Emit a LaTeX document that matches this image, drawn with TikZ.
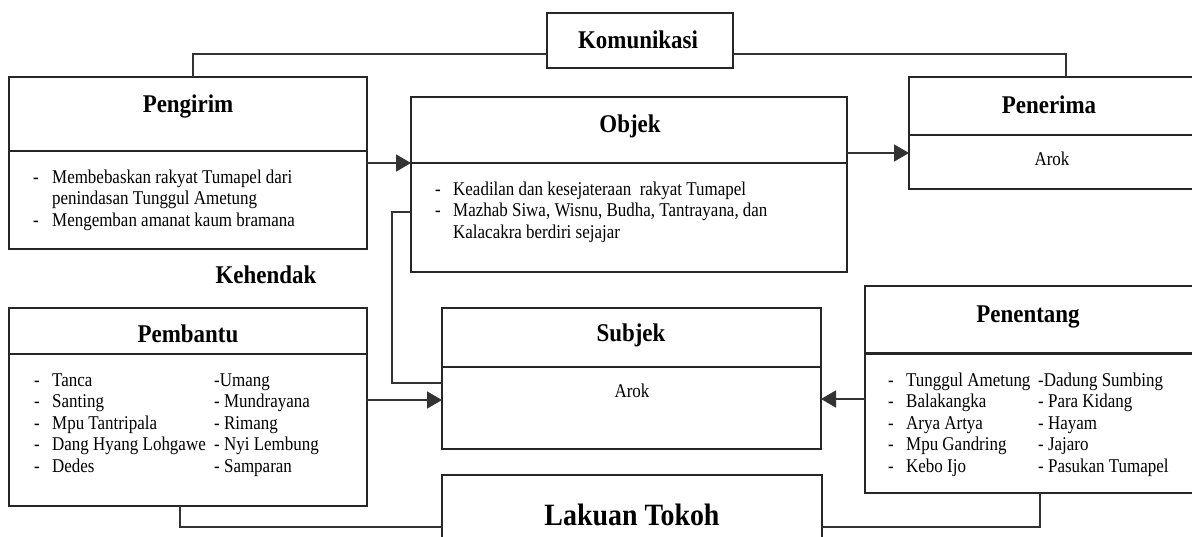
\documentclass[tikz,border=0pt]{standalone}
\usepackage{fontspec}
\setmainfont{Liberation Serif}
\newfontfamily\tfont[FakeStretch=0.9]{Liberation Serif}
\newfontfamily\bfont[FakeStretch=0.87]{Liberation Serif}
\usetikzlibrary{arrows.meta}
\begin{document}
\begin{tikzpicture}[x=1pt,y=-1pt,
  box/.style={draw=black!85, line width=1.5pt, rectangle, inner sep=0pt, outer sep=0pt, anchor=north west},
  divider/.style={draw=black!85, line width=1.5pt},
  ttl/.style={font=\tfont\fontsize{25.5}{28}\selectfont\bfseries, inner sep=0pt, anchor=base},
  bigttl/.style={font=\tfont\fontsize{31}{34}\selectfont\bfseries, inner sep=0pt, anchor=base},
  body/.style={font=\bfont\fontsize{19.5}{21.5}\selectfont, inner sep=0pt, anchor=base west},
  bodyc/.style={font=\bfont\fontsize{19.5}{21.5}\selectfont, inner sep=0pt, anchor=base},
  conn/.style={draw=black!80, line width=1.6pt},
  arr/.style={conn, -{Triangle[length=15pt,width=17pt]}},
]
\useasboundingbox (0,0) rectangle (1192,536);
\clip (0,0) rectangle (1192,536);

% boxes
\node[box, minimum width=186pt, minimum height=55pt] (kom) at (547,13) {};
\node[box, minimum width=358pt, minimum height=172pt] (peng) at (9,77) {};
\node[box, minimum width=436pt, minimum height=175pt] (obj) at (411,97) {};
\node[box, minimum width=300pt, minimum height=112pt] (pen) at (909,77) {};
\node[box, minimum width=358pt, minimum height=198pt] (pemb) at (9,308) {};
\node[box, minimum width=379pt, minimum height=141pt] (subj) at (442,308) {};
\node[box, minimum width=340pt, minimum height=207pt] (pent) at (865,286) {};
\node[box, minimum width=380pt, minimum height=90pt] (lak) at (442,475) {};

% dividers
\draw[divider] ([yshift=-74pt]peng.north west) -- ([yshift=-74pt]peng.north east);
\draw[divider] ([yshift=-66pt]obj.north west) -- ([yshift=-66pt]obj.north east);
\draw[divider] ([yshift=-58pt]pen.north west) -- ([yshift=-58pt]pen.north east);
\draw[divider] ([yshift=-46pt]pemb.north west) -- ([yshift=-46pt]pemb.north east);
\draw[divider] ([yshift=-59pt]subj.north west) -- ([yshift=-59pt]subj.north east);
\draw[divider, line width=3pt] ([yshift=-67pt]pent.north west) -- ([yshift=-67pt]pent.north east);

% titles
\node[ttl] (tkom) at (638,48) {Komunikasi};
\node[ttl] (tpeng) at (188,112) {Pengirim};
\node[ttl] (tobj) at (630,132) {Objek};
\node[ttl] (tpen) at (1049,113) {Penerima};
\node[ttl] (tkeh) at (266,283) {Kehendak};
\node[ttl] (tpemb) at (188,342) {Pembantu};
\node[ttl] (tsubj) at (631,341) {Subjek};
\node[ttl] (tpent) at (1028,322) {Penentang};
\node[bigttl] (tlak) at (632,525) {Lakuan Tokoh};

% bodies
\node[body] (bpeng) at (33,183) {\begin{tabular}[t]{@{}p{19pt}@{}l@{}}-&Membebaskan rakyat Tumapel dari\\&penindasan Tunggul Ametung\\-&Mengemban amanat kaum bramana\end{tabular}};
\node[body] (bobj) at (435,195) {\begin{tabular}[t]{@{}p{18pt}@{}l@{}}-&Keadilan dan kesejateraan\ \ rakyat Tumapel\\-&Mazhab Siwa, Wisnu, Budha, Tantrayana, dan\\&Kalacakra berdiri sejajar\end{tabular}};
\node[bodyc] (bpen) at (1052,165) {Arok};
\node[bodyc] (bsubj) at (632,397) {Arok};
\node[body] (bpemb) at (34,386) {\begin{tabular}[t]{@{}p{18pt}@{}p{162pt}@{}l@{}}-&Tanca&-Umang\\-&Santing&- Mundrayana\\-&Mpu Tantripala&- Rimang\\-&Dang Hyang Lohgawe&- Nyi Lembung\\-&Dedes&- Samparan\end{tabular}};
\node[body] (bpent) at (888,386) {\begin{tabular}[t]{@{}p{18pt}@{}p{132pt}@{}l@{}}-&Tunggul Ametung&-Dadung Sumbing\\-&Balakangka&- Para Kidang\\-&Arya Artya&- Hayam\\-&Mpu Gandring&- Jajaro\\-&Kebo Ijo&- Pasukan Tumapel\end{tabular}};

% connectors
\draw[conn] (kom.west |- 0,54) -| (peng.north -| 193,0);
\draw[conn] (kom.east |- 0,54) -| (pen.north -| 1066,0);
\draw[arr] (peng.east |- 0,163) -- (obj.west |- 0,163);
\draw[arr] (obj.east |- 0,153) -- (pen.west |- 0,153);
\draw[conn] (obj.west |- 0,212) -| (392,300) |- (subj.west |- 0,383);
\draw[arr] (pemb.east |- 0,400) -- (subj.west |- 0,400);
\draw[arr] (pent.west |- 0,399) -- (subj.east |- 0,399);
\draw[conn] (pemb.south -| 180,0) |- (lak.west |- 0,527);
\draw[conn] (pent.south -| 1040,0) |- (lak.east |- 0,527);
\end{tikzpicture}
\end{document}
